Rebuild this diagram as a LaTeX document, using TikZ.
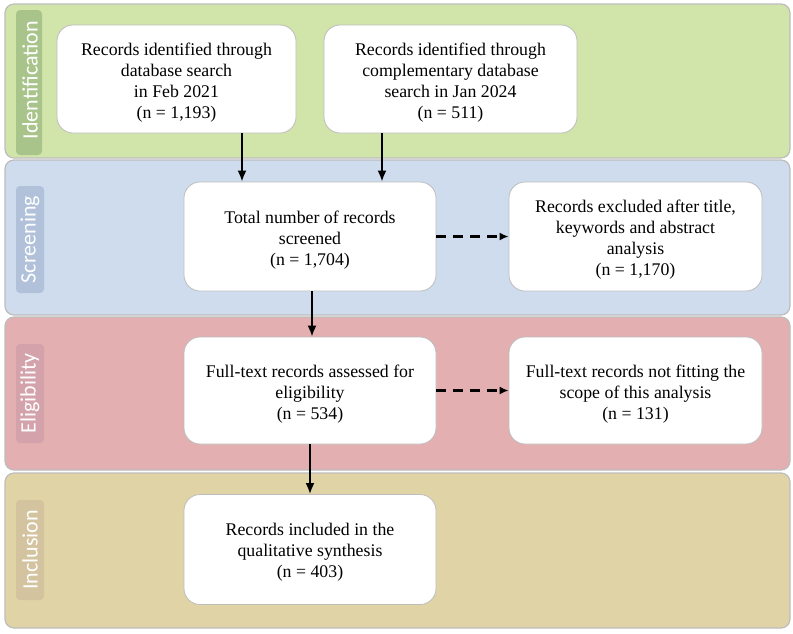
\documentclass[tikz,border=0pt]{standalone}
\usepackage{fontspec}
\setmainfont{Liberation Serif}
\newfontfamily\lblfont{Carlito}
\usetikzlibrary{arrows.meta}
\definecolor{bandG}{HTML}{D1E4A9}
\definecolor{lblG}{HTML}{A9C48B}
\definecolor{bandB}{HTML}{CEDCEE}
\definecolor{lblB}{HTML}{B0C1D9}
\definecolor{bandP}{HTML}{E3AFB0}
\definecolor{lblP}{HTML}{D3A2AB}
\definecolor{bandT}{HTML}{E0D3A5}
\definecolor{lblT}{HTML}{D3C49F}
\definecolor{edgegray}{HTML}{BDBDBD}
\tikzset{
  band/.style={draw=edgegray, line width=1.2pt, rounded corners=9pt},
  lbl/.style={inner sep=0pt, text=white, font=\lblfont\fontsize{22}{26}\selectfont, rotate=90, align=center},
  box/.style={draw=edgegray, line width=0.8pt, fill=white, rounded corners=16pt, inner sep=0pt},
  boxtext/.style={align=center, font=\fontsize{17.8}{21}\selectfont, inner sep=0pt},
  arr/.style={-{Latex[length=11pt,width=9pt]}, line width=2pt},
  darr/.style={-{Latex[length=9pt,width=8pt]}, line width=2.6pt, dash pattern=on 10pt off 7pt}
}
\begin{document}
\begin{tikzpicture}[x=1pt,y=-1pt]
\useasboundingbox (0,0) rectangle (793,633);
% bands
\draw[band, fill=bandG] (5,4) rectangle (790,158);
\draw[band, fill=bandB] (5,160) rectangle (790,315);
\draw[band, fill=bandP] (5,317) rectangle (790,470);
\draw[band, fill=bandT] (5,473) rectangle (790,628);
% label boxes
\fill[lblG, rounded corners=4pt] (16,10) rectangle (42,155);
\fill[lblB, rounded corners=4pt] (16,186) rectangle (44,293);
\fill[lblP, rounded corners=4pt] (16,344) rectangle (44,443);
\fill[lblT, rounded corners=4pt] (16,500) rectangle (44,600);
\node[lbl] (lI) at (30,80) {Identification};
\node[lbl] (lS) at (30,239.5) {Screening};
\node[lbl] (lE) at (30,393.5) {Eligibility};
\node[lbl] (lN) at (30,550) {Inclusion};
% boxes
\node[box, minimum width=239pt, minimum height=108pt] (A) at (176.5,79) {};
\node[box, minimum width=253pt, minimum height=108pt] (B) at (450.5,79) {};
\node[box, minimum width=252pt, minimum height=109pt] (C) at (310,236.5) {};
\node[box, minimum width=253pt, minimum height=109pt] (D) at (635.5,236.5) {};
\node[box, minimum width=252pt, minimum height=107pt] (E) at (310,390.5) {};
\node[box, minimum width=253pt, minimum height=107pt] (F) at (635.5,390.5) {};
\node[box, minimum width=252pt, minimum height=110pt] (G) at (310,549.5) {};
% box texts
\node[boxtext] (tA) at ([yshift=-3.5pt]A.center) {Records identified through\\database search\\in Feb 2021\\(n = 1,193)};
\node[boxtext] (tB) at ([yshift=-3.5pt]B.center) {Records identified through\\complementary database\\search in Jan 2024\\(n = 511)};
\node[boxtext] (tC) at ([yshift=-3.5pt]C.center) {Total number of records\\screened\\(n = 1,704)};
\node[boxtext] (tD) at ([yshift=-3.5pt]D.center) {Records excluded after title,\\keywords and abstract\\analysis\\(n = 1,170)};
\node[boxtext] (tE) at ([yshift=-3.5pt]E.center) {Full-text records assessed for\\eligibility\\(n = 534)};
\node[boxtext] (tF) at ([yshift=-3.5pt]F.center) {Full-text records not fitting the\\scope of this analysis\\(n = 131)};
\node[boxtext] (tG) at ([yshift=-3pt]G.center) {Records included in the\\qualitative synthesis\\(n = 403)};
% arrows
\draw[arr] (A.south -| 242,0) -- (C.north -| 242,0);
\draw[arr] (B.south -| 382,0) -- (C.north -| 382,0);
\draw[arr] (C.south -| 312,0) -- (E.north -| 312,0);
\draw[arr] (E.south -| 310,0) -- (G.north -| 310,0);
\draw[darr] (C.east) -- (D.west);
\draw[darr] (E.east) -- (F.west);
\end{tikzpicture}
\end{document}
